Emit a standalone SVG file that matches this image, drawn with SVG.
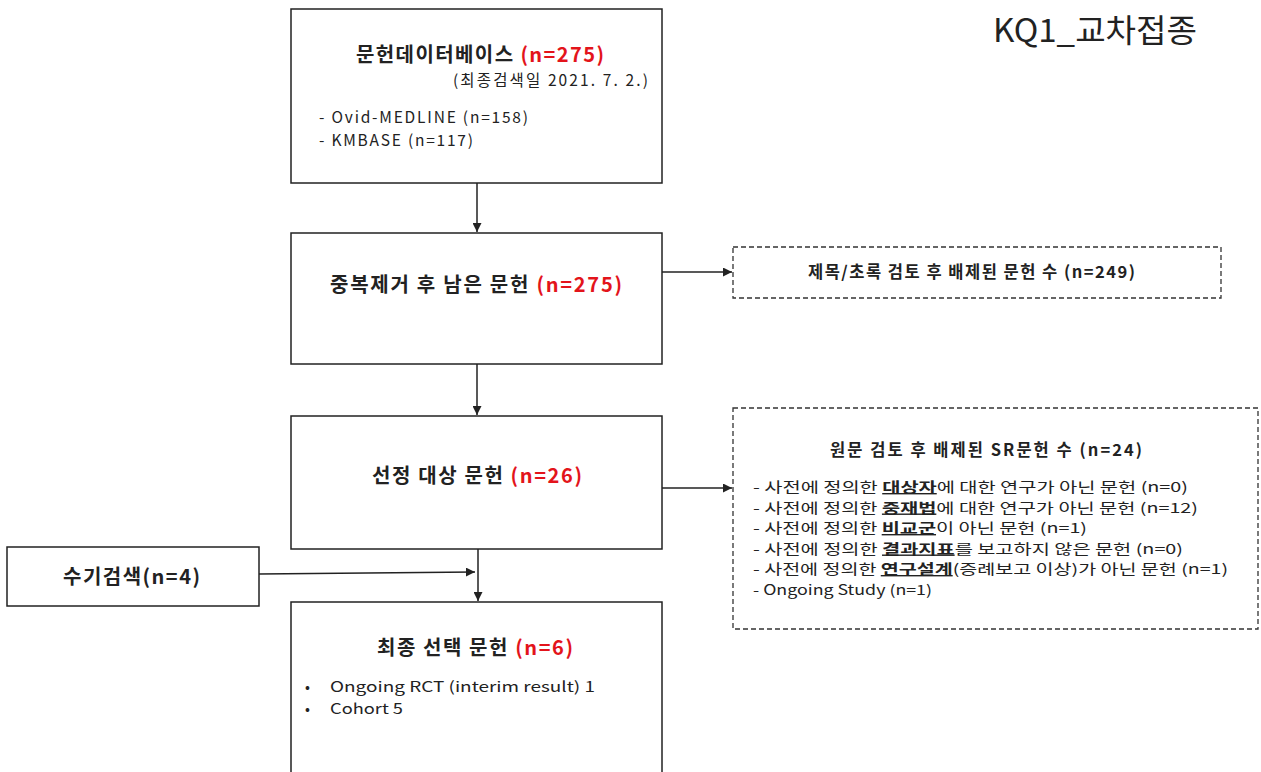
<svg xmlns="http://www.w3.org/2000/svg" width="1261" height="772" viewBox="0 0 1261 772">
<style>
text{font-family:"Noto Sans CJK KR","Noto Sans",sans-serif;fill:#222;}
.box{fill:#fff;stroke:#222;stroke-width:1.5;}
.dash{fill:#fff;stroke:#333;stroke-width:1.3;stroke-dasharray:5,3;}
.h{font-size:20px;font-weight:bold;}
.red{fill:#e3141b;}
.s{font-size:15.5px;}
.l{font-size:14px;}
.b{font-size:14.5px;}
.hb{font-size:16.5px;font-weight:bold;}
.u{font-weight:bold;text-decoration:underline;}
.conn{stroke:#222;stroke-width:1.5;fill:none;marker-end:url(#ah);}
</style>
<defs>
<marker id="ah" viewBox="0 0 10 10" refX="10" refY="5" markerWidth="9" markerHeight="9" markerUnits="userSpaceOnUse" orient="auto">
<path d="M0,0 L10,5 L0,10 z" fill="#222"/>
</marker>
</defs>
<rect width="1261" height="772" fill="#fff"/>
<text x="993" y="42" style="font-size:32px;" textLength="204" lengthAdjust="spacingAndGlyphs">KQ1_교차접종</text>

<g id="db">
<rect class="box" x="291" y="9" width="371" height="174"/>
<text class="h" x="356" y="62" textLength="248">문헌데이터베이스 <tspan class="red">(n=275)</tspan></text>
<text class="s" x="453" y="86" textLength="195">(최종검색일 2021. 7. 2.)</text>
<text class="s" x="319" y="123" textLength="209">- Ovid-MEDLINE  (n=158)</text>
<text class="s" x="319" y="146" textLength="154">- KMBASE (n=117)</text>
</g>

<g id="dedup">
<rect class="box" x="291" y="233" width="371" height="131"/>
<text class="h" x="330" y="292" textLength="292">중복제거 후 남은 문헌 <tspan class="red">(n=275)</tspan></text>
</g>

<g id="excl1">
<rect class="dash" x="733" y="247" width="488" height="51"/>
<text class="hb" x="808" y="278" textLength="327">제목/초록 검토 후 배제된 문헌 수 (n=249)</text>
</g>

<g id="select">
<rect class="box" x="291" y="416" width="371" height="133"/>
<text class="h" x="372" y="483" textLength="210">선정 대상 문헌 <tspan class="red">(n=26)</tspan></text>
</g>

<g id="excl2">
<rect class="dash" x="733" y="408" width="525" height="221"/>
<text class="hb" x="830" y="456" textLength="312">원문 검토 후 배제된 SR문헌 수 (n=24)</text>
<text class="l" x="753" y="492" textLength="435" lengthAdjust="spacingAndGlyphs">- 사전에 정의한 <tspan class="u">대상자</tspan>에 대한 연구가 아닌 문헌 (n=0)</text>
<text class="l" x="753" y="512.5" textLength="445" lengthAdjust="spacingAndGlyphs">- 사전에 정의한 <tspan class="u">중재법</tspan>에 대한 연구가 아닌 문헌 (n=12)</text>
<text class="l" x="753" y="533" textLength="334" lengthAdjust="spacingAndGlyphs">- 사전에 정의한 <tspan class="u">비교군</tspan>이 아닌 문헌 (n=1)</text>
<text class="l" x="753" y="553.5" textLength="430" lengthAdjust="spacingAndGlyphs">- 사전에 정의한 <tspan class="u">결과지표</tspan>를 보고하지 않은 문헌 (n=0)</text>
<text class="l" x="753" y="574" textLength="475" lengthAdjust="spacingAndGlyphs">- 사전에 정의한 <tspan class="u">연구설계</tspan>(증례보고 이상)가 아닌 문헌 (n=1)</text>
<text class="l" x="753" y="594.5" textLength="179" lengthAdjust="spacingAndGlyphs">- Ongoing Study (n=1)</text>
</g>

<g id="hand">
<rect class="box" x="7" y="547" width="252" height="59"/>
<text class="h" x="63" y="584" textLength="137">수기검색(n=4)</text>
</g>

<g id="final">
<rect class="box" x="291" y="602" width="371" height="220"/>
<text class="h" x="377" y="655" textLength="196">최종 선택 문헌 <tspan class="red">(n=6)</tspan></text>
<text class="b" x="305" y="692">•</text>
<text class="b" x="330" y="692" textLength="265" lengthAdjust="spacingAndGlyphs">Ongoing  RCT (interim result) 1</text>
<text class="b" x="305" y="714">•</text>
<text class="b" x="330" y="714" textLength="73" lengthAdjust="spacingAndGlyphs">Cohort 5</text>
</g>

<g id="connectors">
<line class="conn" x1="477" y1="183" x2="477" y2="232"/>
<line class="conn" x1="477" y1="364" x2="477" y2="415"/>
<line class="conn" x1="662" y1="272" x2="732" y2="272"/>
<line class="conn" x1="662" y1="488" x2="732" y2="488"/>
<line class="conn" x1="259" y1="574" x2="475" y2="572"/>
<line class="conn" x1="478" y1="549" x2="478" y2="601"/>
</g>
</svg>
